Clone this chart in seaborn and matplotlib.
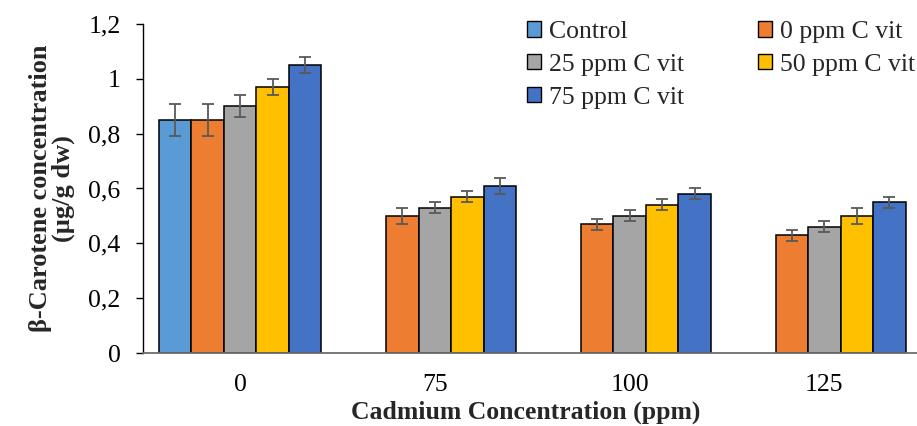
import pandas as pd
import matplotlib.pyplot as plt
import matplotlib.patches as mpatches
import seaborn as sns

# Cadmium levels (x categories) and treatment series
cadmium = ['0', '75', '100', '125']
series = ['Control', '0 ppm C vit', '25 ppm C vit', '50 ppm C vit', '75 ppm C vit']
colors = ['#5B9BD5', '#ED7D31', '#A5A5A5', '#FFC000', '#4472C4']

# Control only exists for 0 ppm cadmium
control = [0.85]
control_err = [0.06]
vit_0 = [0.85, 0.50, 0.47, 0.43]
vit_0_err = [0.06, 0.03, 0.02, 0.02]
vit_25 = [0.90, 0.53, 0.50, 0.46]
vit_25_err = [0.04, 0.02, 0.02, 0.02]
vit_50 = [0.97, 0.57, 0.54, 0.50]
vit_50_err = [0.03, 0.02, 0.02, 0.03]
vit_75 = [1.05, 0.61, 0.58, 0.55]
vit_75_err = [0.03, 0.03, 0.02, 0.02]

yticks = [0, 0.2, 0.4, 0.6, 0.8, 1.0, 1.2]
ytick_labels = ['0', '0,2', '0,4', '0,6', '0,8', '1', '1,2']

values = [control, vit_0, vit_25, vit_50, vit_75]
errors = [control_err, vit_0_err, vit_25_err, vit_50_err, vit_75_err]

rows = []
for name, vals in zip(series, values):
    for cd, v in zip(cadmium, vals):
        rows.append({'cd': cd, 'val': v, 'series': name})
df = pd.DataFrame(rows)

sns.set_style('ticks')
plt.rcParams['font.family'] = ['Liberation Serif', 'DejaVu Serif']

fig = plt.figure(figsize=(9.17, 4.26), dpi=100)
ax = fig.add_axes([142.7 / 917, 73 / 426, 779 / 917, 329 / 426])

sns.barplot(data=df, x='cd', y='val', hue='series', order=cadmium,
            hue_order=series, palette=colors, saturation=1, width=0.835,
            errorbar=None, edgecolor='black', linewidth=1.1, legend=False, ax=ax)

# error bars on top of each bar
for cont, errs in zip(ax.containers, errors):
    xs = [p.get_x() + p.get_width() / 2 for p in cont.patches]
    hs = [p.get_height() for p in cont.patches]
    ax.errorbar(xs, hs, yerr=errs[:len(xs)], fmt='none', ecolor='#595959',
                elinewidth=1.3, capsize=4.3, capthick=1.3, zorder=5)

ax.set_xlim(-0.5, 3.5)
ax.set_ylim(0, 1.2)
ax.set_yticks(yticks)
ax.set_yticklabels(ytick_labels)

for s in ['top', 'right']:
    ax.spines[s].set_visible(False)
ax.spines['left'].set_color('black')
ax.spines['left'].set_linewidth(1.0)
ax.spines['bottom'].set_color('#6d6d6d')
ax.spines['bottom'].set_linewidth(1.3)

ax.tick_params(axis='x', length=0, pad=15, labelsize=18.5, colors='black')
ax.tick_params(axis='y', length=5, width=1, pad=11, labelsize=18.5, colors='black')

ax.set_xlabel('Cadmium Concentration (ppm)', fontsize=18.5, fontweight='bold')
ax.xaxis.set_label_coords(0.491, -0.145)
ax.set_ylabel('β-Carotene concentration\n(µg/g dw)', fontsize=19,
              fontweight='bold', linespacing=0.95)
ax.yaxis.set_label_coords(-0.087, 0.5)

handles = [mpatches.Patch(facecolor=c, edgecolor='black', linewidth=1.0, label=s)
           for s, c in zip(series, colors)]
order = [0, 2, 4, 1, 3]
fig.legend([handles[i] for i in order], [series[i] for i in order],
           loc='upper left', bbox_to_anchor=(527 / 917, 1 - 21 / 426),
           ncol=2, frameon=False, fontsize=18.5, handlelength=0.55,
           handleheight=0.55, handletextpad=0.3, columnspacing=2.87,
           labelspacing=0.42, borderpad=0, borderaxespad=0)

fig.savefig('out.png', dpi=100)
